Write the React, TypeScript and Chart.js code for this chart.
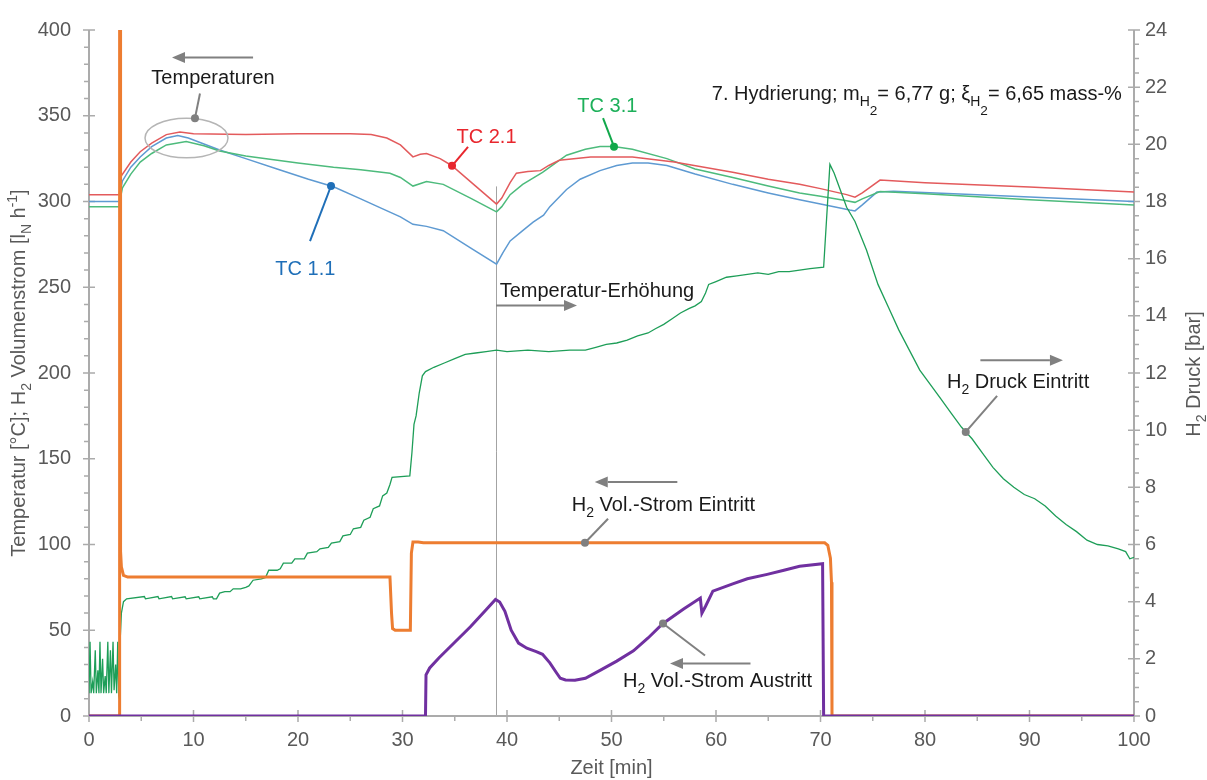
import { useEffect, useRef } from 'react';
import { Chart, registerables } from 'chart.js';

Chart.register(...registerables);

type Pt = [number, number];
type Seg = { t: string; lvl?: number };

const FONT = '"Liberation Sans", Arial, Helvetica, sans-serif';
const TEXT_GRAY = '#595959';
const AXIS_GRAY = '#ABABAB';
const NOTE_GRAY = '#808080';
const INK = '#1A1A1A';

// Achsen-Ticks
const xMajorTicks = [0, 10, 20, 30, 40, 50, 60, 70, 80, 90, 100];
const xMinorTicks = [5, 15, 25, 35, 45, 55, 65, 75, 85, 95];
const yMajorTicks = [0, 50, 100, 150, 200, 250, 300, 350, 400];
const yMinorStep = 10;
const pMajorTicks = [0, 2, 4, 6, 8, 10, 12, 14, 16, 18, 20, 22, 24];
const pMinorStep = 0.5;

// Zeit [min] / Temperatur [°C] – TC 1.1
const tc11: Pt[] = [
  [0, 300], [2.9, 300], [2.97, 305], [3.2, 312], [4.0, 320], [4.9, 326], [6.0, 332], [7.4, 337],
  [8.5, 338.5], [9.5, 337], [11.0, 333.5], [12.5, 330], [15.0, 325], [18.0, 319], [21.0, 313],
  [23.4, 308.6], [26.0, 301.5], [28.0, 296], [29.8, 291], [31.0, 286.7], [32.3, 285.5], [33.9, 283],
  [36.5, 273], [39.0, 263.5], [39.6, 270], [40.3, 277], [41.5, 283], [42.5, 288], [43.5, 292],
  [44.1, 297], [45.7, 307], [47.0, 313], [48.9, 318], [50.5, 321], [52.0, 322.5], [53.5, 322.5],
  [55.3, 321], [58.0, 316], [61.6, 310], [65.0, 305], [68.0, 301], [70.0, 298.5], [72.8, 295],
  [73.3, 294.5], [74.0, 298], [75.4, 305.5], [77.0, 306], [85.0, 304], [100, 300],
];

// TC 2.1
const tc21: Pt[] = [
  [0, 304], [2.9, 304], [2.97, 308], [3.1, 315], [4.0, 323], [4.9, 329], [6.0, 334], [7.4, 339],
  [8.7, 340.5], [10, 339.5], [15, 339], [20, 339.5], [25, 339.5], [27, 339], [28.5, 337],
  [29.8, 333], [31.0, 326], [31.7, 327.5], [32.3, 328], [33.6, 325], [34.7, 321], [37.0, 309],
  [39.0, 298.5], [39.5, 302], [40.3, 311], [40.9, 316.5], [42.0, 317.5], [43.2, 318], [44.0, 321],
  [45.0, 324], [48.0, 326], [52.0, 326], [56.0, 323], [61.6, 317], [65, 313], [68, 310],
  [70, 307.5], [72.5, 304], [73.3, 302.5], [74, 305], [75.7, 312.5], [80, 311], [90, 308.5],
  [100, 305.5],
];

// TC 3.1
const tc31: Pt[] = [
  [0, 297], [2.9, 297], [2.97, 301], [3.2, 308], [4.0, 316], [4.9, 323], [6.0, 328], [7.4, 333],
  [9.3, 335], [11, 332.5], [12.5, 329.5], [15, 326.5], [20, 322.5], [23.4, 320], [26, 318.5],
  [28.8, 316.5], [29.8, 314], [31.0, 309], [32.3, 311.6], [33.9, 310], [36.5, 302], [39.0, 294],
  [39.5, 297], [40.3, 304], [41.5, 310], [43.4, 317], [45.7, 327], [47.5, 330.5], [48.9, 332],
  [50.2, 332], [52, 330.5], [55.3, 325], [58, 319], [61.6, 314], [65, 309], [68, 305], [70, 303],
  [72.5, 300.5], [73.3, 299.5], [74, 301.5], [75.7, 305.8], [80, 304.5], [90, 301], [100, 298],
];

// H2 Vol.-Strom Eintritt [lN/h]
const inletFlow: Pt[] = [
  [0, 0], [2.9, 0], [2.93, 400], [2.98, 400], [3.02, 96], [3.1, 87], [3.3, 82], [3.7, 81],
  [28.8, 81], [28.95, 60], [29.05, 51], [29.3, 50], [30.75, 50], [30.85, 95], [31.0, 101.5],
  [31.5, 101.5], [32, 101], [70.4, 101], [70.7, 99.5], [70.95, 92], [71.05, 78], [71.1, 0], [100, 0],
];

// H2 Vol.-Strom Austritt [lN/h]
const outletFlow: Pt[] = [
  [0, 0], [32.2, 0], [32.25, 24], [32.6, 28], [33.5, 34], [35, 43], [36.5, 52], [38, 62],
  [38.9, 68], [39.3, 66.5], [39.8, 61], [40.4, 50], [41.1, 42.5], [41.9, 39.5], [42.8, 37.5],
  [43.4, 36], [44.1, 31], [44.7, 25.5], [45.1, 22], [45.6, 21], [46.5, 20.8], [47.5, 22],
  [48.9, 26.6], [50.5, 32], [52.1, 38], [53.5, 45.5], [54.9, 53.8], [56.9, 62.4], [58.5, 68.8],
  [58.65, 60], [59.0, 64], [59.7, 72.8], [61.6, 77], [63.0, 80], [64.9, 82.6], [66.5, 85],
  [68.0, 87.3], [70.2, 88.8], [70.3, 0], [100, 0],
];

// H2 Druck Eintritt [bar]
const inletPressure: Pt[] = [
  [0, 0.8], [0.1, 2.6], [0.2, 0.8], [0.35, 1.2], [0.45, 0.8], [0.6, 2.3], [0.7, 0.8], [0.85, 1.6],
  [0.95, 0.8], [1.05, 2.6], [1.15, 0.8], [1.3, 2.0], [1.4, 0.8], [1.55, 1.4], [1.65, 0.8],
  [1.8, 2.6], [1.9, 0.8], [2.05, 2.3], [2.15, 0.8], [2.3, 2.6], [2.4, 0.9], [2.55, 1.8],
  [2.65, 0.8], [2.75, 2.6], [2.85, 0.8], [2.95, 1.0], [3.0, 2.8], [3.1, 3.6], [3.3, 4.0],
  [3.6, 4.1], [5.3, 4.18], [5.4, 4.1], [6.6, 4.18], [6.7, 4.1], [7.9, 4.18], [8.0, 4.1],
  [9.2, 4.17], [9.3, 4.1], [10.5, 4.17], [10.6, 4.1], [11.8, 4.17], [11.9, 4.1], [12.2, 4.1],
  [12.5, 4.3], [13.0, 4.35], [13.5, 4.35], [13.8, 4.45], [14.5, 4.45], [15.0, 4.5], [15.3, 4.55],
  [15.7, 4.75], [16.5, 4.8], [16.9, 4.85], [17.2, 5.1], [18.0, 5.1], [18.3, 5.15], [18.6, 5.35],
  [19.4, 5.35], [19.7, 5.5], [20.6, 5.5], [20.9, 5.7], [21.8, 5.75], [22.1, 5.85], [22.9, 5.9],
  [23.2, 6.05], [24.0, 6.1], [24.3, 6.3], [25.0, 6.35], [25.3, 6.55], [26.0, 6.6], [26.3, 6.85],
  [26.9, 6.95], [27.2, 7.25], [27.8, 7.35], [28.1, 7.7], [28.5, 7.8], [28.8, 8.1], [29.0, 8.35],
  [30.7, 8.4], [30.9, 9.2], [31.1, 10.2], [31.3, 10.5], [31.6, 11.3], [31.9, 11.9], [32.2, 12.05],
  [33.0, 12.2], [34.0, 12.35], [35.0, 12.5], [36.0, 12.65], [37.0, 12.7], [38.0, 12.75],
  [39.0, 12.8], [40.0, 12.75], [42.0, 12.8], [44.0, 12.75], [46.0, 12.8], [47.5, 12.8],
  [48.5, 12.9], [49.5, 13.0], [50.5, 13.05], [51.5, 13.15], [52.5, 13.3], [53.5, 13.4],
  [54.2, 13.55], [55.0, 13.7], [55.8, 13.9], [56.6, 14.1], [57.4, 14.25], [58.0, 14.35],
  [58.6, 14.5], [59.0, 14.8], [59.3, 15.1], [60.0, 15.2], [61.0, 15.35], [62.0, 15.4],
  [63.0, 15.45], [64.0, 15.5], [65.0, 15.45], [66.0, 15.55], [67.0, 15.55], [68.0, 15.6],
  [69.0, 15.65], [70.3, 15.7], [70.9, 19.3], [71.3, 19.0], [71.8, 18.5], [72.5, 17.8],
  [73.3, 17.3], [74.4, 16.3], [75.5, 15.1], [76.5, 14.3], [77.5, 13.5], [78.5, 12.8],
  [79.5, 12.1], [80.5, 11.6], [81.5, 11.1], [82.5, 10.6], [83.5, 10.1], [84.5, 9.7], [85.5, 9.2],
  [86.5, 8.7], [87.5, 8.3], [88.5, 8.0], [89.5, 7.75], [90.5, 7.6], [91.5, 7.35], [92.5, 7.0],
  [93.5, 6.7], [94.5, 6.45], [95.5, 6.15], [96.5, 6.0], [97.5, 5.95], [98.5, 5.85], [99.2, 5.75],
  [99.6, 5.5], [100, 5.55],
];

// Markierung Temperatur-Erhöhung
const markerTime = 38.95;
const markerTop = 308.8;

const toXY = (s: Pt[]) => s.map(([x, y]) => ({ x, y }));

function valueAt(series: Pt[], x: number) {
  for (let i = 1; i < series.length; i++) {
    const [x0, y0] = series[i - 1];
    const [x1, y1] = series[i];
    if (x >= x0 && x <= x1) return x1 === x0 ? y1 : y0 + ((y1 - y0) * (x - x0)) / (x1 - x0);
  }
  return series[series.length - 1][1];
}

function segStyle(lvl: number, size: number) {
  if (lvl === 1) return { s: size * 0.7, dy: size * 0.3 };
  if (lvl === 2) return { s: size * 0.68, dy: size * 0.72 };
  if (lvl === -1) return { s: size * 0.7, dy: -size * 0.38 };
  return { s: size, dy: 0 };
}

function drawRich(ctx: CanvasRenderingContext2D, segs: Seg[], x: number, y: number, size: number, color: string, align: 'left' | 'center') {
  ctx.fillStyle = color;
  ctx.textBaseline = 'alphabetic';
  ctx.textAlign = 'left';
  let w = 0;
  for (const g of segs) {
    const { s } = segStyle(g.lvl ?? 0, size);
    ctx.font = `${s}px ${FONT}`;
    w += ctx.measureText(g.t).width;
  }
  let cx = align === 'center' ? x - w / 2 : x;
  for (const g of segs) {
    const { s, dy } = segStyle(g.lvl ?? 0, size);
    ctx.font = `${s}px ${FONT}`;
    ctx.fillText(g.t, cx, y + dy);
    cx += ctx.measureText(g.t).width;
  }
}

function drawArrow(ctx: CanvasRenderingContext2D, x1: number, y1: number, x2: number, y2: number) {
  const ang = Math.atan2(y2 - y1, x2 - x1);
  const hl = 13;
  const hw = 5.5;
  const c = Math.cos(ang);
  const s = Math.sin(ang);
  ctx.strokeStyle = NOTE_GRAY;
  ctx.fillStyle = NOTE_GRAY;
  ctx.lineWidth = 2;
  ctx.beginPath();
  ctx.moveTo(x1, y1);
  ctx.lineTo(x2 - hl * c, y2 - hl * s);
  ctx.stroke();
  ctx.beginPath();
  ctx.moveTo(x2, y2);
  ctx.lineTo(x2 - hl * c + hw * s, y2 - hl * s - hw * c);
  ctx.lineTo(x2 - hl * c - hw * s, y2 - hl * s + hw * c);
  ctx.closePath();
  ctx.fill();
}

function drawLeader(ctx: CanvasRenderingContext2D, dx: number, dy: number, ex: number, ey: number, color: string) {
  ctx.strokeStyle = color;
  ctx.fillStyle = color;
  ctx.lineWidth = 2;
  ctx.beginPath();
  ctx.moveTo(dx, dy);
  ctx.lineTo(ex, ey);
  ctx.stroke();
  ctx.beginPath();
  ctx.arc(dx, dy, 4, 0, Math.PI * 2);
  ctx.fill();
}

const decorPlugin = {
  id: 'decor',
  beforeDatasetsDraw(chart: any) {
    const { ctx, chartArea: a, scales } = chart;
    const sx = scales.x;
    const sy = scales.y;
    const sr = scales.y1;
    ctx.save();

    // senkrechte Markierung
    const mx = Math.round(sx.getPixelForValue(markerTime)) + 0.5;
    ctx.strokeStyle = '#A3A3A3';
    ctx.lineWidth = 1;
    ctx.beginPath();
    ctx.moveTo(mx, sy.getPixelForValue(0));
    ctx.lineTo(mx, sy.getPixelForValue(markerTop));
    ctx.stroke();

    // Achsenlinien
    ctx.strokeStyle = AXIS_GRAY;
    ctx.lineWidth = 2;
    ctx.beginPath();
    ctx.moveTo(a.left, a.top);
    ctx.lineTo(a.left, a.bottom);
    ctx.moveTo(a.left, a.bottom);
    ctx.lineTo(a.right, a.bottom);
    ctx.moveTo(a.right, a.top);
    ctx.lineTo(a.right, a.bottom);
    ctx.stroke();

    // Teilstriche
    ctx.lineWidth = 1.5;
    ctx.beginPath();
    for (const v of xMajorTicks) {
      const px = sx.getPixelForValue(v);
      ctx.moveTo(px, a.bottom - 6);
      ctx.lineTo(px, a.bottom + 6);
    }
    for (const v of xMinorTicks) {
      const px = sx.getPixelForValue(v);
      ctx.moveTo(px, a.bottom);
      ctx.lineTo(px, a.bottom + 5);
    }
    for (let v = 0; v <= 400; v += yMinorStep) {
      const py = sy.getPixelForValue(v);
      if (yMajorTicks.includes(v)) {
        ctx.moveTo(a.left - 6, py);
        ctx.lineTo(a.left + 6, py);
      } else {
        ctx.moveTo(a.left - 5, py);
        ctx.lineTo(a.left, py);
      }
    }
    for (let v = 0; v <= 24; v += pMinorStep) {
      const py = sr.getPixelForValue(v);
      if (pMajorTicks.includes(v)) {
        ctx.moveTo(a.right - 6, py);
        ctx.lineTo(a.right + 6, py);
      } else {
        ctx.moveTo(a.right, py);
        ctx.lineTo(a.right + 5, py);
      }
    }
    ctx.stroke();
    ctx.restore();
  },
  afterDatasetsDraw(chart: any) {
    const { ctx, chartArea: a, scales } = chart;
    const X = (v: number) => scales.x.getPixelForValue(v);
    const Y = (v: number) => scales.y.getPixelForValue(v);
    const P = (v: number) => scales.y1.getPixelForValue(v);
    ctx.save();

    // Temperaturen
    ctx.strokeStyle = '#B5B5B5';
    ctx.lineWidth = 1.5;
    ctx.beginPath();
    ctx.ellipse(X(9.33), Y(337), X(9.33 + 3.97) - X(9.33), Y(337) - Y(337 + 11.56), 0, 0, Math.PI * 2);
    ctx.stroke();
    drawLeader(ctx, X(10.14), Y(348.6), X(10.62), Y(363), NOTE_GRAY);
    drawArrow(ctx, X(15.7), Y(384), X(7.94), Y(384));
    drawRich(ctx, [{ t: 'Temperaturen' }], X(11.87), Y(368.8), 20, INK, 'center');

    // Thermoelemente
    drawLeader(ctx, X(34.74), Y(valueAt(tc21, 34.74)), X(36.27), Y(331.8), '#E8262D');
    drawRich(ctx, [{ t: 'TC 2.1' }], X(38.04), Y(334.3), 20, '#E8262D', 'center');
    drawLeader(ctx, X(50.24), Y(valueAt(tc31, 50.24)), X(49.19), Y(348.6), '#12A84B');
    drawRich(ctx, [{ t: 'TC 3.1' }], X(49.6), Y(352.2), 20, '#1DB05A', 'center');
    drawLeader(ctx, X(23.16), Y(valueAt(tc11, 23.16)), X(21.15), Y(276.9), '#1F6FB8');
    drawRich(ctx, [{ t: 'TC 1.1' }], X(20.7), Y(257.2), 20, '#1F6FB8', 'center');

    // Versuchsangabe
    drawRich(ctx, [
      { t: '7. Hydrierung; m' }, { t: 'H', lvl: 1 }, { t: '2', lvl: 2 },
      { t: '= 6,77 g; ξ' }, { t: 'H', lvl: 1 }, { t: '2', lvl: 2 }, { t: '= 6,65 mass-%' },
    ], X(59.6), Y(359), 20, INK, 'left');

    // Temperatur-Erhöhung
    drawRich(ctx, [{ t: 'Temperatur-Erhöhung' }], X(39.3), Y(244.5), 20, INK, 'left');
    drawArrow(ctx, X(38.95), Y(239.3), X(46.7), Y(239.3));

    // Volumenströme
    drawLeader(ctx, X(47.46), Y(valueAt(inletFlow, 47.46)), X(49.67), Y(115), NOTE_GRAY);
    drawArrow(ctx, X(56.3), Y(136.4), X(48.4), Y(136.4));
    drawRich(ctx, [{ t: 'H' }, { t: '2', lvl: 1 }, { t: ' Vol.-Strom Eintritt' }], X(46.2), Y(119.7), 20, INK, 'left');

    drawLeader(ctx, X(54.93), Y(valueAt(outletFlow, 54.93)), X(58.95), Y(35.3), NOTE_GRAY);
    drawArrow(ctx, X(63.3), Y(30.6), X(55.6), Y(30.6));
    drawRich(ctx, [{ t: 'H' }, { t: '2', lvl: 1 }, { t: ' Vol.-Strom Austritt' }], X(51.1), Y(16.8), 20, INK, 'left');

    // Druck
    drawLeader(ctx, X(83.9), P(valueAt(inletPressure, 83.9)), X(86.9), Y(186.7), NOTE_GRAY);
    drawArrow(ctx, X(85.3), Y(207.5), X(93.2), Y(207.5));
    drawRich(ctx, [{ t: 'H' }, { t: '2', lvl: 1 }, { t: ' Druck Eintritt' }], X(82.1), Y(191.3), 20, INK, 'left');

    // Achsentitel
    drawRich(ctx, [{ t: 'Zeit [min]' }], (a.left + a.right) / 2, 774, 20, TEXT_GRAY, 'center');
    ctx.save();
    ctx.translate(25, (a.top + a.bottom) / 2);
    ctx.rotate(-Math.PI / 2);
    drawRich(ctx, [
      { t: 'Temperatur [°C]; H' }, { t: '2', lvl: 1 }, { t: ' Volumenstrom [l' }, { t: 'N', lvl: 1 },
      { t: ' h' }, { t: '-1', lvl: -1 }, { t: ']' },
    ], 0, 0, 20, TEXT_GRAY, 'center');
    ctx.restore();
    ctx.save();
    ctx.translate(1200, 374);
    ctx.rotate(-Math.PI / 2);
    drawRich(ctx, [{ t: 'H' }, { t: '2', lvl: 1 }, { t: ' Druck [bar]' }], 0, 0, 20, TEXT_GRAY, 'center');
    ctx.restore();

    ctx.restore();
  },
};

export default function App() {
  const ref = useRef<HTMLCanvasElement>(null);

  useEffect(() => {
    if (!ref.current) return;
    const tickFont = { family: FONT, size: 20 };
    const line = (label: string, data: Pt[], color: string, width: number, axis: string, order: number) => ({
      label,
      data: toXY(data),
      yAxisID: axis,
      borderColor: color,
      backgroundColor: color,
      borderWidth: width,
      pointRadius: 0,
      tension: 0,
      fill: false,
      order,
    });
    const chart = new Chart(ref.current, {
      type: 'line',
      data: {
        datasets: [
          line('TC 2.1', tc21, '#E35A5C', 1.5, 'y', 4),
          line('TC 3.1', tc31, '#4DBB7C', 1.5, 'y', 5),
          line('TC 1.1', tc11, '#5E9AD2', 1.5, 'y', 6),
          line('H2 Druck Eintritt', inletPressure, '#1E9E58', 1.3, 'y1', 3),
          line('H2 Vol.-Strom Eintritt', inletFlow, '#ED7D31', 3, 'y', 2),
          line('H2 Vol.-Strom Austritt', outletFlow, '#7030A0', 3, 'y', 1),
        ],
      },
      options: {
        responsive: false,
        devicePixelRatio: 1,
        animation: false,
        events: [],
        layout: { padding: { top: 24, left: 0, right: 0, bottom: 0 } },
        plugins: { legend: { display: false }, tooltip: { enabled: false } },
        scales: {
          x: {
            type: 'linear',
            min: 0,
            max: 100,
            afterFit: (s: any) => { s.height = 64; },
            grid: { display: false, drawTicks: false },
            border: { display: false },
            ticks: { stepSize: 10, font: tickFont, color: TEXT_GRAY, padding: 12, maxRotation: 0, autoSkip: false },
          },
          y: {
            type: 'linear',
            position: 'left',
            min: 0,
            max: 400,
            afterFit: (s: any) => { s.width = 89; },
            grid: { display: false, drawTicks: false },
            border: { display: false },
            ticks: { stepSize: 50, font: tickFont, color: TEXT_GRAY, padding: 18 },
          },
          y1: {
            type: 'linear',
            position: 'right',
            min: 0,
            max: 24,
            afterFit: (s: any) => { s.width = 73; },
            grid: { display: false, drawTicks: false },
            border: { display: false },
            ticks: { stepSize: 2, font: tickFont, color: TEXT_GRAY, padding: 11 },
          },
        },
      } as any,
      plugins: [decorPlugin],
    });
    return () => chart.destroy();
  }, []);

  return (
    <div style={{ position: 'absolute', left: 0, top: 0, width: 1207, height: 780, background: '#fff' }}>
      <canvas ref={ref} width={1207} height={780} style={{ display: 'block' }} />
    </div>
  );
}
